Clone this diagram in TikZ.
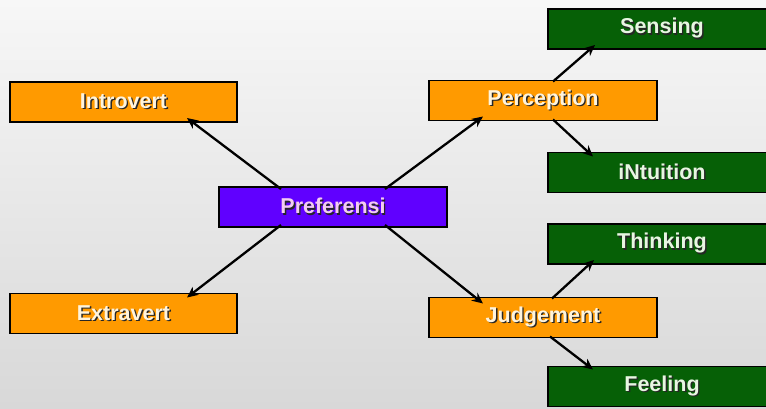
\documentclass[tikz,border=0pt]{standalone}
\usepackage{fontspec}
\setmainfont{Liberation Sans}
\usetikzlibrary{arrows.meta}
\definecolor{boxorange}{HTML}{FF9A00}
\definecolor{boxpurple}{HTML}{6000FF}
\definecolor{boxgreen}{HTML}{066006}
\definecolor{txtorange}{HTML}{FFF4DC}
\definecolor{txtpurple}{HTML}{F4CCF2}
\definecolor{txtgreen}{HTML}{E8F6E2}
\definecolor{bgtop}{HTML}{F7F7F7}
\definecolor{bgbottom}{HTML}{D8D8D8}
% text with a dark drop shadow
\newcommand{\shadowed}[2]{\makebox[0pt][l]{\hspace{1.4pt}\raisebox{-1.4pt}{\color{black!85}#2}}{\color{#1}#2}}
\tikzset{
  box/.style={draw=black, line width=1.7pt, minimum width=228pt, minimum height=40pt,
    inner sep=0pt, outer sep=0pt, font=\bfseries\fontsize{21.5}{24}\selectfont},
  orangebox/.style={box, fill=boxorange},
  purplebox/.style={box, fill=boxpurple},
  greenbox/.style={box, fill=boxgreen},
  arr/.style={line width=2.3pt, -{Stealth[length=11pt,width=10pt]}}
}
\begin{document}
\begin{tikzpicture}[x=1pt,y=-1pt]
  \shade[top color=bgtop, bottom color=bgbottom] (0,0) rectangle (766,408);
  \clip (0,0) rectangle (766,408);

  \node[purplebox] (pref) at (333,207) {\shadowed{txtpurple}{Preferensi}};
  \node[orangebox, minimum width=227pt] (intro) at (123.5,102) {\shadowed{txtorange}{Introvert}};
  \node[orangebox, minimum width=227pt] (extra) at (123.5,313.5) {\shadowed{txtorange}{Extravert}};
  \node[orangebox] (perc) at (543,100.5) {\shadowed{txtorange}{Perception}};
  \node[orangebox] (judg) at (543,317.5) {\shadowed{txtorange}{Judgement}};
  \node[greenbox] (sens) at (662,29) {\shadowed{txtgreen}{Sensing}};
  \node[greenbox] (intu) at (662,172.5) {\shadowed{txtgreen}{iNtuition}};
  \node[greenbox] (think) at (662,244) {\shadowed{txtgreen}{Thinking}};
  \node[greenbox] (feel) at (662,386.5) {\shadowed{txtgreen}{Feeling}};

  \draw[arr] ([xshift=62pt,yshift=-2pt]pref.north west) -- ([xshift=-50pt,yshift=4pt]intro.south east);
  \draw[arr] ([xshift=-62pt,yshift=-2pt]pref.north east) -- ([xshift=54pt,yshift=4pt]perc.south west);
  \draw[arr] ([xshift=62pt,yshift=2pt]pref.south west) -- ([xshift=-50pt,yshift=-4pt]extra.north east);
  \draw[arr] ([xshift=-62pt,yshift=2pt]pref.south east) -- ([xshift=54pt,yshift=-6pt]judg.north west);

  \draw[arr] ([xshift=124pt,yshift=-1pt]perc.north west) -- ([xshift=47pt,yshift=4pt]sens.south west);
  \draw[arr] ([xshift=124pt,yshift=1pt]perc.south west) -- ([xshift=45pt,yshift=-4pt]intu.north west);
  \draw[arr] ([xshift=123pt,yshift=-1pt]judg.north west) -- ([xshift=46pt,yshift=4pt]think.south west);
  \draw[arr] ([xshift=121pt,yshift=1pt]judg.south west) -- ([xshift=45pt,yshift=-3pt]feel.north west);
\end{tikzpicture}
\end{document}
